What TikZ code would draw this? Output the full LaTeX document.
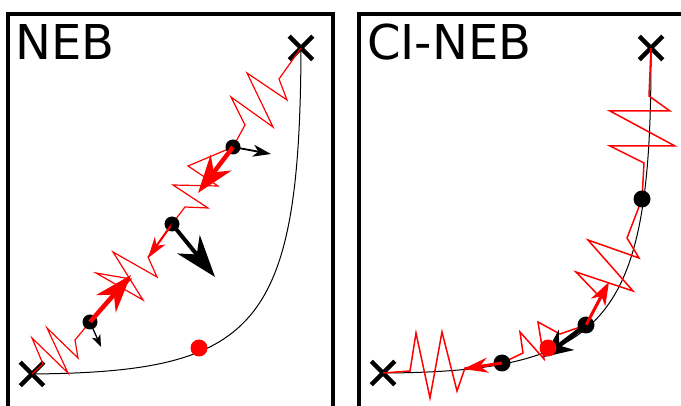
\documentclass[tikz,border=0pt]{standalone}
\usepackage{fontspec}
\setmainfont{DejaVu Sans}
\usetikzlibrary{arrows.meta, positioning, shapes.misc}

\begin{document}
\begin{tikzpicture}[x=1pt, y=-1pt]
        \tikzstyle{panel} = [draw=black, line width=4pt]
        \tikzstyle{title} = [anchor=base west, inner sep=0pt, font=\fontsize{48}{48}\selectfont]
        \tikzstyle{endpt} = [cross out, draw=black, line width=4.5pt, minimum size=19pt, inner sep=0pt]
        \tikzstyle{bead} = [circle, fill=black, minimum size=15pt, inner sep=0pt]
        \tikzstyle{saddle} = [circle, fill=red, minimum size=17pt, inner sep=0pt]
        \tikzstyle{mep} = [black, line width=1pt]
        \tikzstyle{spring} = [red, line width=1.2pt, line join=miter]
        \tikzstyle{redbig} = [red, line width=4.5pt, -{Stealth[length=38pt, width=26pt, inset=12pt]}]
        \tikzstyle{redsmall} = [red, line width=2pt, -{Stealth[length=21pt, width=13pt, inset=6pt]}]
        \tikzstyle{blackbig} = [black, line width=4pt, -{Stealth[length=42pt, width=29pt, inset=13pt]}]
        \tikzstyle{blacksmall} = [black, line width=1.8pt, -{Stealth[length=18pt, width=12pt, inset=5pt]}]
        \tikzstyle{blacktiny} = [black, line width=1.3pt, -{Stealth[length=12pt, width=9pt, inset=3pt]}]

        \clip (0,0) rectangle (681,406);

        % frames
        \draw [panel] (8,14) rectangle (333,430);
        \draw [panel] (359,14) rectangle (700,430);
        \node (neb) [title] at (15,60) {NEB};
        \node (cineb) [title] at (367,60) {CI-NEB};

        % plain NEB
        \node (ltop) [endpt] at (301,48) {};
        \node (lbot) [endpt] at (32,374) {};
        \draw [mep] (lbot.center) .. controls (255,372) and (300,330) .. (ltop.center);
        \draw [spring] (301,48) -- (279,79) -- (287,100) -- (247,73) -- (273,127) -- (231,97) -- (245,125) -- (233,147);
        \draw [spring] (233,147) -- (188,166) -- (218,186) -- (173,185) -- (208,208) -- (185,207) -- (172,224);
        \draw [spring] (172,224) -- (148,257) -- (157,277) -- (113,252) -- (143,300) -- (96,273) -- (131,279) -- (90,322);
        \draw [spring] (90,322) -- (75,340) -- (78,358) -- (47,328) -- (68,373) -- (32,338) -- (43,364) -- (32,374);
        \node (la) [bead] at (233,147) {};
        \node (lb) [bead] at (172,224) {};
        \node (lc) [bead] at (90,322) {};
        \node (lsad) [saddle] at (199,348) {};
        \coordinate (laS) at (198,193);
        \coordinate (laF) at (271,154);
        \coordinate (lbS) at (148,258);
        \coordinate (lbF) at (215,277);
        \coordinate (lcS) at (131,275);
        \coordinate (lcF) at (101,347);
        \draw [redbig] (la.center) -- (laS);
        \draw [blacksmall] (la.center) -- (laF);
        \draw [redsmall] (lb.center) -- (lbS);
        \draw [blackbig] (lb.center) -- (lbF);
        \draw [redbig] (lc.center) -- (lcS);
        \draw [blacktiny] (lc.center) -- (lcF);

        % climbing image NEB
        \node (rtop) [endpt] at (651,48) {};
        \node (rbot) [endpt] at (383,373) {};
        \draw [mep] (rbot.center) .. controls (610,372) and (652,320) .. (rtop.center);
        \draw [spring, line width=1.5pt] (651,48) -- (649,96) -- (670,111) -- (610,111) -- (675,146) -- (610,146) -- (644,163) -- (642,199);
        \draw [spring, line width=1.5pt] (642,199) -- (627,238) -- (639,258) -- (588,240) -- (633,291) -- (576,272) -- (600,297) -- (586,325);
        \draw [spring, line width=1.5pt] (586,325) -- (560,334) -- (538,322) -- (544,359) -- (520,332) -- (523,353) -- (502,363);
        \draw [spring, line width=1.5pt] (502,363) -- (465,368) -- (457,391) -- (442,332) -- (430,398) -- (416,333) -- (410,371) -- (383,373);
        \node (rd) [bead, minimum size=17pt] at (642,199) {};
        \node (re) [bead, minimum size=17pt] at (586,325) {};
        \node (rf) [bead, minimum size=17pt] at (502,363) {};
        \coordinate (reS) at (609,282);
        \coordinate (reF) at (544,357);
        \coordinate (rfS) at (463,369);
        \draw [red, line width=3pt, -{Stealth[length=23pt, width=16pt, inset=7pt]}] (re.center) -- (reS);
        \draw [black, line width=4.5pt, -{Stealth[length=28pt, width=25pt, inset=9pt]}] (re.center) -- (reF);
        \node (rsad) [saddle] at (548,348) {};
        \draw [red, line width=3pt, -{Stealth[length=25pt, width=15pt, inset=8pt]}] (rf.center) -- (rfS);
    \end{tikzpicture}
\end{document}
